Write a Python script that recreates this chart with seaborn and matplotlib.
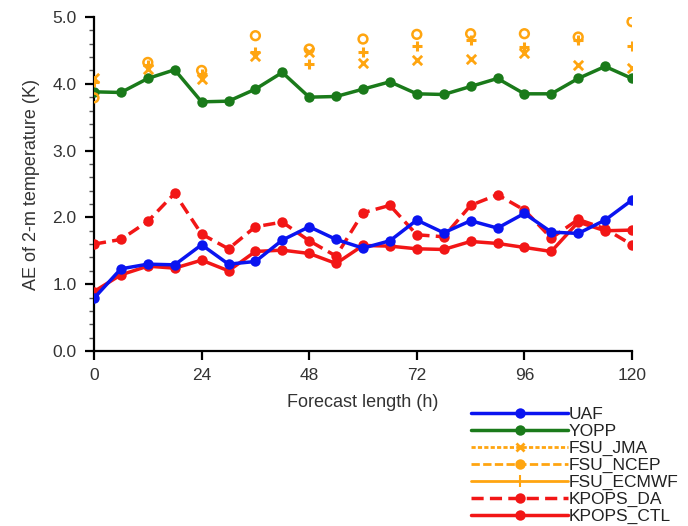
import numpy as np
import pandas as pd
import matplotlib
matplotlib.use("Agg")
import matplotlib.pyplot as plt
from matplotlib.lines import Line2D
from matplotlib.ticker import MultipleLocator, FormatStrFormatter
import seaborn as sns

# ---- data ----
hours = [0, 6, 12, 18, 24, 30, 36, 42, 48, 54, 60, 66, 72, 78, 84, 90, 96, 102, 108, 114, 120]
uaf = [0.79, 1.23, 1.30, 1.29, 1.59, 1.30, 1.34, 1.66, 1.86, 1.67, 1.54,
       1.65, 1.96, 1.77, 1.95, 1.84, 2.06, 1.78, 1.76, 1.96, 2.26]
yopp = [3.88, 3.87, 4.08, 4.21, 3.73, 3.74, 3.92, 4.17, 3.80, 3.81, 3.92,
        4.03, 3.85, 3.84, 3.96, 4.08, 3.85, 3.85, 4.08, 4.26, 4.08]
kpops_da = [1.60, 1.67, 1.94, 2.36, 1.75, 1.53, 1.86, 1.93, 1.65, 1.42, 2.07,
            2.18, 1.74, 1.71, 2.18, 2.34, 2.11, 1.69, 1.97, 1.83, 1.59]
kpops_ctl = [0.89, 1.14, 1.27, 1.24, 1.36, 1.20, 1.49, 1.51, 1.46, 1.31, 1.58,
             1.57, 1.53, 1.52, 1.64, 1.61, 1.55, 1.49, 1.93, 1.80, 1.81]

fsu_hours = [0, 12, 24, 36, 48, 60, 72, 84, 96, 108, 120]
fsu_jma = [4.08, 4.22, 4.07, 4.42, 4.48, 4.31, 4.36, 4.37, 4.46, 4.28, 4.23]
fsu_ncep = [3.79, 4.32, 4.20, 4.72, 4.52, 4.67, 4.74, 4.75, 4.75, 4.70, 4.93]
fsu_ecmwf = [4.03, 4.28, 4.15, 4.48, 4.30, 4.47, 4.57, 4.66, 4.55, 4.65, 4.56]

x_ticks = [0, 24, 48, 72, 96, 120]
y_ticks = [0.0, 1.0, 2.0, 3.0, 4.0, 5.0]

BLUE = "#0a14f0"
GREEN = "#1a7a1a"
ORANGE = "#ffa510"
RED = "#f21616"

sns.set_style("ticks")
plt.rcParams["font.family"] = ["Liberation Sans", "DejaVu Sans"]

fig = plt.figure(figsize=(6.88, 5.26), dpi=100)
ax = fig.add_axes([94 / 688, 1 - 351 / 526, (632 - 94) / 688, (351 - 17) / 526])

lines_df = pd.DataFrame({"h": hours, "UAF": uaf, "YOPP": yopp,
                         "KPOPS_DA": kpops_da, "KPOPS_CTL": kpops_ctl})
fsu_df = pd.DataFrame({"h": fsu_hours, "JMA": fsu_jma, "NCEP": fsu_ncep, "ECMWF": fsu_ecmwf})

lw = 2.5
ms = 7.5
sns.lineplot(data=lines_df, x="h", y="KPOPS_CTL", ax=ax, color=RED, lw=lw,
             marker="o", markersize=ms, markeredgewidth=0, zorder=3)
sns.lineplot(data=lines_df, x="h", y="KPOPS_DA", ax=ax, color=RED, lw=lw,
             marker="o", markersize=ms, markeredgewidth=0, linestyle=(0, (3.5, 1.8)), zorder=3)
sns.lineplot(data=lines_df, x="h", y="UAF", ax=ax, color=BLUE, lw=lw,
             marker="o", markersize=ms, markeredgewidth=0, zorder=4)
sns.lineplot(data=lines_df, x="h", y="YOPP", ax=ax, color=GREEN, lw=lw,
             marker="o", markersize=ms, markeredgewidth=0, zorder=4)

sns.scatterplot(data=fsu_df, x="h", y="JMA", ax=ax, marker="x", s=45,
                color=ORANGE, linewidth=2.0, zorder=5)
sns.scatterplot(data=fsu_df, x="h", y="ECMWF", ax=ax, marker="+", s=60,
                color=ORANGE, linewidth=2.2, zorder=5)
sns.scatterplot(data=fsu_df, x="h", y="NCEP", ax=ax, marker="o", s=40,
                facecolors="none", edgecolor=ORANGE, linewidth=1.8, zorder=5)

ax.set_xlim(0, 120)
ax.set_ylim(0, 5)
ax.set_xticks(x_ticks)
ax.set_yticks(y_ticks)
ax.yaxis.set_major_formatter(FormatStrFormatter("%.1f"))
ax.yaxis.set_minor_locator(MultipleLocator(0.2))
ax.tick_params(axis="both", which="major", direction="out", length=6.5, width=1.6,
               labelsize=12.5, colors="black", labelcolor="#333333", pad=6)
ax.tick_params(axis="y", which="minor", direction="out", length=3.5, width=1.0, colors="#555555")
for s in ["top", "right"]:
    ax.spines[s].set_visible(False)
for s in ["left", "bottom"]:
    ax.spines[s].set_linewidth(1.6)
    ax.spines[s].set_color("black")

ax.set_xlabel("Forecast length (h)", fontsize=13, color="#333333", labelpad=8)
ax.set_ylabel("AE of 2-m temperature (K)", fontsize=13, color="#333333", labelpad=9)

handles = [
    Line2D([], [], color=BLUE, lw=2.5, marker="o", markersize=7.5, markeredgewidth=0, markevery=[1]),
    Line2D([], [], color=GREEN, lw=2.5, marker="o", markersize=7.5, markeredgewidth=0, markevery=[1]),
    Line2D([], [], color=ORANGE, lw=2.0, linestyle=(0, (1.5, 0.8)), marker="x", markersize=6,
           markeredgewidth=2, markevery=[1]),
    Line2D([], [], color=ORANGE, lw=2.0, linestyle=(0, (3, 1.2)), marker="o", markersize=7.5,
           markeredgewidth=0, markevery=[1]),
    Line2D([], [], color=ORANGE, lw=2.0, marker="|", markersize=9, markeredgewidth=1.5, markevery=[1]),
    Line2D([], [], color=RED, lw=2.5, linestyle=(0, (3.5, 1.8)), marker="o", markersize=7.5,
           markeredgewidth=0, markevery=[1]),
    Line2D([], [], color=RED, lw=2.5, marker="o", markersize=7.5, markeredgewidth=0, markevery=[1]),
]
for h in handles:
    h.set_xdata([0, 0.5, 1])
labels = ["UAF", "YOPP", "FSU_JMA", "FSU_NCEP", "FSU_ECMWF", "KPOPS_DA", "KPOPS_CTL"]
leg = fig.legend(handles, labels, loc="upper left", bbox_to_anchor=(471 / 688, 1 - 407 / 526),
                 frameon=False, fontsize=12.5, handlelength=5.6, handletextpad=0.05,
                 labelspacing=0.1, borderaxespad=0, borderpad=0)
for t in leg.get_texts():
    t.set_color("#222222")

fig.savefig("out.png", dpi=100)
